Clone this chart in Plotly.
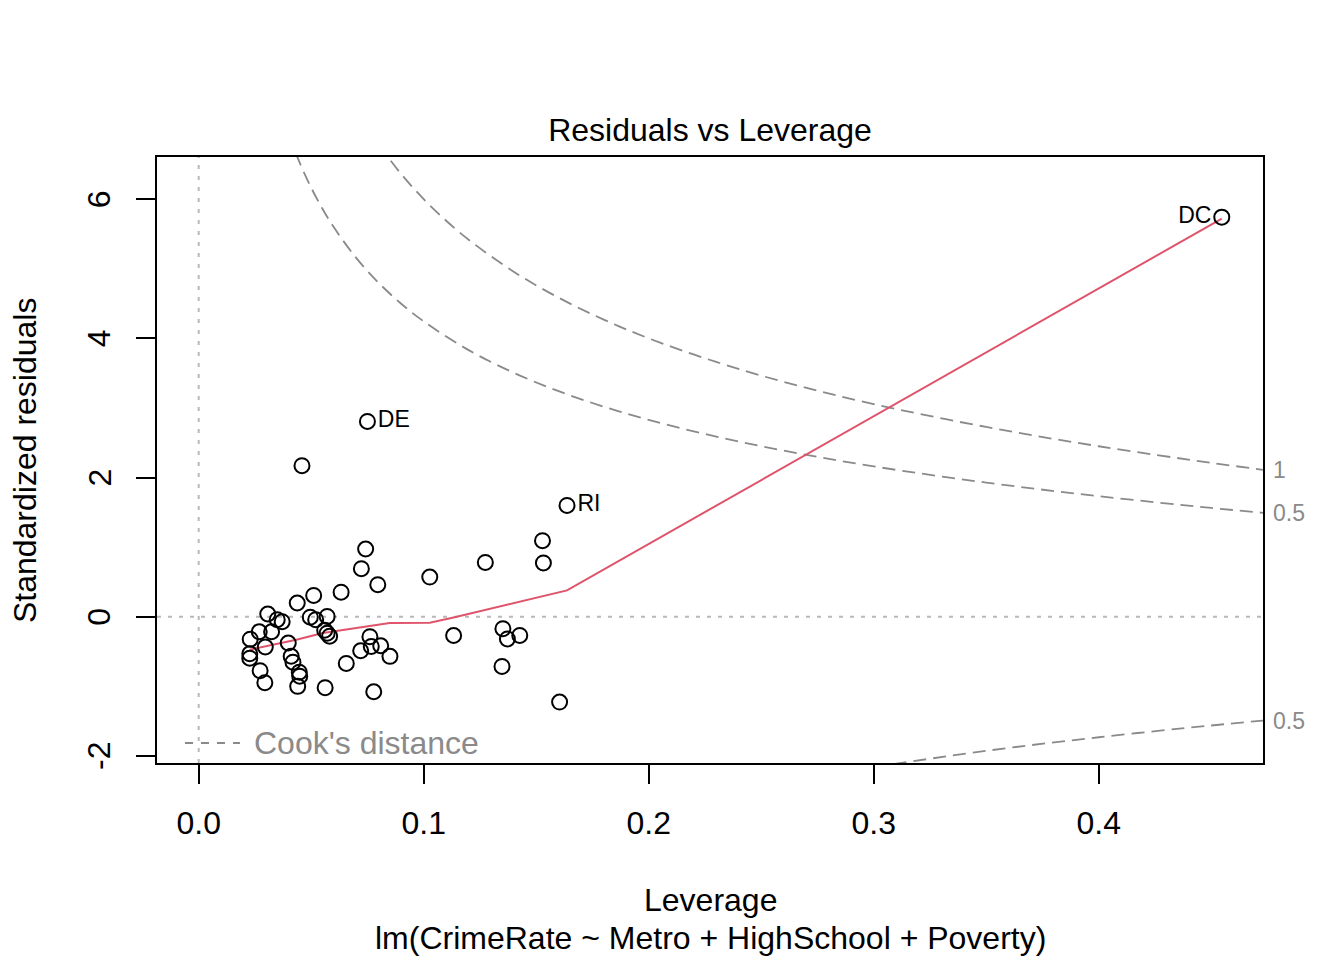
import plotly.graph_objects as go

# leverage / standardized residuals (51 states)
leverage = [0.0796, 0.0633, 0.0511, 0.0438, 0.0307, 0.0349, 0.0371, 0.0496, 0.0520, 0.0571,
            0.0560, 0.0571, 0.0582, 0.0269, 0.0324, 0.0229, 0.0296, 0.0398, 0.0227, 0.0227,
            0.0411, 0.0419, 0.0273, 0.0447, 0.0449, 0.0440, 0.0294, 0.0562, 0.0656, 0.0720,
            0.0761, 0.0767, 0.0809, 0.0850, 0.0778, 0.1133, 0.1352, 0.1372, 0.1427, 0.1348,
            0.1604, 0.1027, 0.1274, 0.1528, 0.1532, 0.1637, 0.0750, 0.0459, 0.0742, 0.0723,
            0.4547]
std_resid = [0.460, 0.352, 0.306, 0.197, 0.039, -0.043, -0.072, -0.007, -0.043, 0.004,
             -0.194, -0.237, -0.280, -0.216, -0.216, -0.323, -0.435, -0.378, -0.532, -0.596,
             -0.568, -0.654, -0.776, -0.797, -0.855, -1.001, -0.948, -1.020, -0.671, -0.489,
             -0.287, -0.427, -0.417, -0.570, -1.078, -0.270, -0.172, -0.320, -0.269, -0.714,
             -1.226, 0.570, 0.780, 1.092, 0.772, 1.599, 2.806, 2.170, 0.973, 0.690,
             5.741]
point_labels = [""] * 45 + ["RI", "DE", "", "", "", "DC"]

# red smoother
smooth_h = [0.0227, 0.0330, 0.0434, 0.0552, 0.0627, 0.0745, 0.0849, 0.1027, 0.1133, 0.1637, 0.4547]
smooth_r = [-0.474, -0.402, -0.330, -0.234, -0.197, -0.139, -0.091, -0.086, -0.010, 0.378, 5.72]

# Cook's distance contours
cook05_h = [0.04, 0.045, 0.05, 0.055, 0.06, 0.07, 0.08, 0.09, 0.10, 0.12, 0.14, 0.16,
            0.18, 0.20, 0.23, 0.26, 0.30, 0.35, 0.40, 0.45, 0.473]
cook05_r = [6.928, 6.515, 6.164, 5.862, 5.598, 5.155, 4.796, 4.497, 4.243, 3.830, 3.505, 3.240,
            3.018, 2.828, 2.588, 2.386, 2.160, 1.927, 1.732, 1.563, 1.493]
cook1_h = [0.08, 0.09, 0.10, 0.11, 0.12, 0.14, 0.16, 0.18, 0.20, 0.23, 0.26, 0.30,
           0.35, 0.40, 0.45, 0.473]
cook1_r = [6.782, 6.360, 6.000, 5.689, 5.416, 4.957, 4.583, 4.269, 4.000, 3.660, 3.374, 3.055,
           2.726, 2.449, 2.211, 2.111]
cook05_neg_h = [0.30, 0.35, 0.40, 0.45, 0.473]
cook05_neg_r = [-2.160, -1.927, -1.732, -1.563, -1.493]

x_ticks = [0.0, 0.1, 0.2, 0.3, 0.4]
y_ticks = [-2, 0, 2, 4, 6]
y_tick_text = ["-2", "0", "2", "4", "6"]

FONT = "Liberation Sans, Arial, sans-serif"
GREY = "#8a8a8a"
FS = 32

fig = go.Figure()

for hh, rr in [(cook05_h, cook05_r), (cook1_h, cook1_r), (cook05_neg_h, cook05_neg_r)]:
    fig.add_trace(go.Scatter(x=hh, y=rr, mode="lines", line_shape="spline",
                             line=dict(color=GREY, width=1.8, dash="13px,7px"),
                             hoverinfo="skip"))

fig.add_trace(go.Scatter(x=smooth_h, y=smooth_r, mode="lines",
                         line=dict(color="#DF536B", width=2)))

fig.add_trace(go.Scatter(
    x=leverage, y=std_resid, mode="markers+text",
    marker=dict(symbol="circle-open", size=15, color="black", line=dict(width=2)),
    text=point_labels,
    textposition=["middle left" if t == "DC" else "middle right" for t in point_labels],
    textfont=dict(size=23, color="black", family=FONT),
))

fig.add_hline(y=0, line=dict(color="#b8b8b8", width=2, dash="4px,7px"), layer="below")
fig.add_vline(x=0, line=dict(color="#b8b8b8", width=2, dash="4px,7px"), layer="below")

# y tick labels, rotated like R's default
for yv, lab in zip(y_ticks, y_tick_text):
    fig.add_annotation(x=-0.0524, xref="paper", y=yv, yref="y", text=lab, showarrow=False,
                       textangle=-90, xanchor="center", yanchor="middle",
                       font=dict(size=FS, color="black", family=FONT))

# contour labels on the right margin
for lab, yv in [("1", cook1_r[-1]), ("0.5", cook05_r[-1]), ("0.5", cook05_neg_r[-1])]:
    fig.add_annotation(x=1, xref="paper", y=yv, yref="y", text=lab, showarrow=False,
                       xanchor="left", xshift=8, font=dict(size=23, color=GREY, family=FONT))

# legend
fig.add_shape(type="line", xref="paper", yref="paper", x0=0.0253, x1=0.075, y0=0.033, y1=0.033,
              line=dict(color=GREY, width=1.8, dash="8px,8px"))
fig.add_annotation(x=0.0859, y=0.033, xref="paper", yref="paper", text="Cook's distance",
                   showarrow=False, xanchor="left", yanchor="middle",
                   font=dict(size=FS, color=GREY, family=FONT))

fig.add_annotation(x=0.5, y=-0.226, xref="paper", yref="paper", text="Leverage",
                   showarrow=False, yanchor="middle", font=dict(size=FS, color="black", family=FONT))
fig.add_annotation(x=0.5, y=-0.2888, xref="paper", yref="paper",
                   text="lm(CrimeRate ~ Metro + HighSchool + Poverty)",
                   showarrow=False, yanchor="middle", font=dict(size=FS, color="black", family=FONT))
fig.add_annotation(x=-0.1193, y=0.5, xref="paper", yref="paper", text="Standardized residuals",
                   showarrow=False, textangle=-90, xanchor="center", yanchor="middle",
                   font=dict(size=FS, color="black", family=FONT))

# page body has an 8px margin, so the figure is 8px smaller and shifted
fig.update_layout(
    width=1336, height=952,
    margin=dict(l=149, r=81, t=149, b=197),
    paper_bgcolor="white", plot_bgcolor="white",
    showlegend=False,
    font=dict(family=FONT, size=FS, color="black"),
    title=dict(text="Residuals vs Leverage", x=0.5, xanchor="center", xref="paper",
               y=1 - 122 / 952, yanchor="middle", font=dict(size=FS, color="black")),
    xaxis=dict(range=[-0.01853, 0.47302], tickvals=x_ticks, tickformat=".1f",
               showgrid=False, zeroline=False, showline=True, mirror=True,
               linecolor="black", linewidth=2, ticks="outside", ticklen=19, tickwidth=2,
               tickcolor="black", ticklabelstandoff=12),
    yaxis=dict(range=[-2.102, 6.605], tickvals=y_ticks, showticklabels=False,
               showgrid=False, zeroline=False, showline=True, mirror=True,
               linecolor="black", linewidth=2, ticks="outside", ticklen=19, tickwidth=2,
               tickcolor="black"),
)

fig.write_html("out.html")
